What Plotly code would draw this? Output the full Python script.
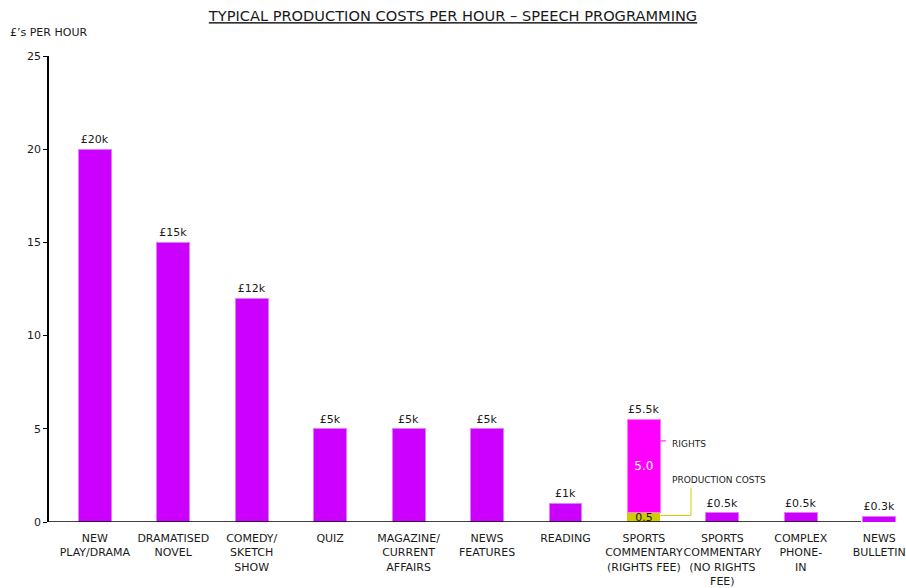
import plotly.graph_objects as go

# Programme types (x axis) and typical cost per hour in £k
categories = [
    "NEW<br>PLAY/DRAMA", "DRAMATISED<br>NOVEL", "COMEDY/<br>SKETCH<br>SHOW", "QUIZ",
    "MAGAZINE/<br>CURRENT<br>AFFAIRS", "NEWS<br>FEATURES", "READING",
    "SPORTS<br>COMMENTARY<br>(RIGHTS FEE)", "SPORTS<br>COMMENTARY<br>(NO RIGHTS<br>FEE)",
    "COMPLEX<br>PHONE-<br>IN", "NEWS<br>BULLETIN",
]
costs = [20, 15, 12, 5, 5, 5, 1, None, 0.5, 0.5, 0.3]
cost_labels = ["£20k", "£15k", "£12k", "£5k", "£5k", "£5k", "£1k", "", "£0.5k", "£0.5k", "£0.3k"]

# Split of the sports commentary (rights fee) programme
split_category = categories[7]
production_cost = 0.5
rights_cost = 5.0
split_total_label = "£5.5k"

y_ticks = [0, 5, 10, 15, 20, 25]

FONT = "DejaVu Sans"
INK = "#1a1a1a"
PURPLE = "#CC00FF"
MAGENTA = "#FF00FF"
OLIVE = "#CCCC00"
BAR_W = 0.42

fig = go.Figure()

fig.add_trace(go.Bar(
    x=categories, y=costs, width=BAR_W,
    marker=dict(color=PURPLE, line=dict(color="#E27BFF", width=1)),
    text=cost_labels, textposition="outside", cliponaxis=False,
    textfont=dict(family=FONT, size=11, color=INK),
    hoverinfo="skip", showlegend=False,
))
fig.add_trace(go.Bar(
    x=[split_category], y=[production_cost], width=BAR_W,
    marker=dict(color=OLIVE, line=dict(color=OLIVE, width=0)),
    text=[f"{production_cost:.1f}"], textposition="inside", constraintext="none",
    insidetextanchor="middle",
    textfont=dict(family=FONT, size=11, color=INK),
    hoverinfo="skip", showlegend=False,
))
fig.add_trace(go.Bar(
    x=[split_category], y=[rights_cost], width=BAR_W,
    marker=dict(color=MAGENTA, line=dict(color="#FF77FF", width=1)),
    text=[f"{rights_cost:.1f}"], textposition="inside", constraintext="none",
    insidetextanchor="middle",
    textfont=dict(family=FONT, size=12, color="white"),
    hoverinfo="skip", showlegend=False,
))

split_idx = categories.index(split_category)
edge = split_idx + BAR_W / 2

# Total above the stacked bar
fig.add_annotation(x=split_category, y=production_cost + rights_cost, text=split_total_label,
                   showarrow=False, yanchor="bottom", yshift=1,
                   font=dict(family=FONT, size=11, color=INK))

# Leader lines and captions for the two segments
fig.add_shape(type="line", xref="x", yref="y", x0=edge, x1=edge + 0.07, y0=4.35, y1=4.35,
              line=dict(color=MAGENTA, width=1))
fig.add_annotation(x=edge + 0.12, y=4.2, xref="x", yref="y", text="RIGHTS", showarrow=False,
                   xanchor="left", yanchor="middle", font=dict(family=FONT, size=9, color=INK))
fig.add_shape(type="path", xref="x", yref="y",
              path=f"M {edge},0.35 L {edge + 0.39},0.35 L {edge + 0.39},1.85",
              line=dict(color="#CCCC00", width=1))
fig.add_annotation(x=edge + 0.12, y=2.25, xref="x", yref="y", text="PRODUCTION COSTS",
                   showarrow=False, xanchor="left", yanchor="middle",
                   font=dict(family=FONT, size=9, color=INK))

# Baseline drawn across the first ten categories
fig.add_shape(type="line", xref="paper", yref="y", x0=0, x1=0.952, y0=0, y1=0,
              line=dict(color="black", width=1.5))

fig.update_layout(
    width=906, height=588,
    margin=dict(l=49, r=0, t=56, b=66),
    paper_bgcolor="white", plot_bgcolor="white",
    barmode="stack", bargap=0.58,
    title=dict(text="<u>TYPICAL PRODUCTION COSTS PER HOUR – SPEECH PROGRAMMING</u>",
               x=0.5, xref="container", xanchor="center",
               y=1 - 16 / 588, yref="container", yanchor="middle",
               font=dict(family=FONT, size=14.6, color=INK)),
    font=dict(family=FONT, size=11, color=INK),
)

fig.add_annotation(xref="paper", yref="paper", x=0, y=1, xshift=-41, yshift=24,
                   text="£’s PER HOUR", showarrow=False, xanchor="left", yanchor="middle",
                   font=dict(family=FONT, size=11, color=INK))

fig.update_xaxes(type="category", range=[-0.584, 10.29], showline=False, showgrid=False,
                 zeroline=False, ticks="", tickfont=dict(family=FONT, size=11, color=INK),
                 tickangle=0, ticklabelstandoff=8)
fig.update_yaxes(range=[0, 25], tickvals=y_ticks, showline=True, linecolor="black", linewidth=1.5,
                 ticks="outside", ticklen=4, tickcolor="black", showgrid=False, zeroline=False,
                 tickfont=dict(family=FONT, size=11, color=INK))

fig.write_html("out.html")
